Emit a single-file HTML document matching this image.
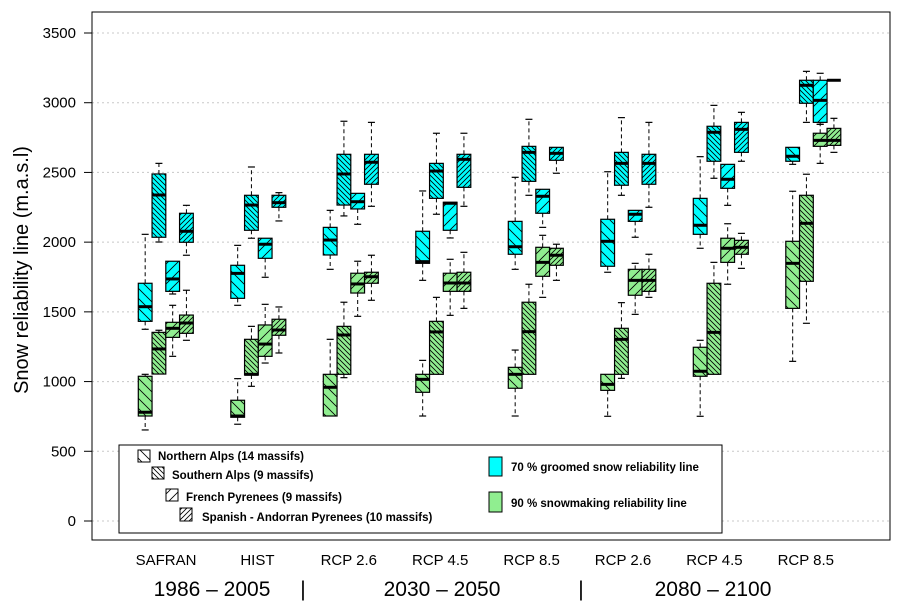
<!DOCTYPE html>
<html><head><meta charset="utf-8"><style>
body{margin:0;background:#fff;}
svg{display:block;font-family:"Liberation Sans",Arial,sans-serif;}
</style></head><body>
<svg id="chart" width="902" height="610" viewBox="0 0 902 610">
<defs>
<pattern id="pN" patternUnits="userSpaceOnUse" width="10" height="10"><path d="M-1,-1 L11,11 M-6,4 L6,16 M4,-6 L16,6" stroke="#000" stroke-width="0.8"/></pattern>
<pattern id="pS" patternUnits="userSpaceOnUse" width="5" height="5"><path d="M-1,-1 L6,6 M-3.5,1.5 L1.5,6.5 M1.5,-3.5 L6.5,1.5" stroke="#000" stroke-width="0.8"/></pattern>
<pattern id="pF" patternUnits="userSpaceOnUse" width="10" height="10"><path d="M-1,11 L11,-1 M-6,6 L6,-6 M4,16 L16,4" stroke="#000" stroke-width="0.8"/></pattern>
<pattern id="pP" patternUnits="userSpaceOnUse" width="5" height="5"><path d="M-1,6 L6,-1 M-3.5,3.5 L1.5,-1.5 M1.5,8.5 L8.5,1.5" stroke="#000" stroke-width="0.8"/></pattern>
</defs>
<g id="grid"></g>
<g id="marks"></g>
<rect x="92" y="12" width="798" height="528" fill="none" stroke="#000" stroke-width="1"/>
<g id="yaxis"></g>
<text x="28" y="270" font-size="20" text-anchor="middle" transform="rotate(-90 28 270)">Snow reliability line (m.a.s.l)</text>
<g id="xaxis" font-size="15" text-anchor="middle"></g>
<g font-size="21" text-anchor="middle">
<text x="212" y="596">1986 – 2005</text>
<text x="303" y="596">|</text>
<text x="442" y="596">2030 – 2050</text>
<text x="581" y="596">|</text>
<text x="713" y="596">2080 – 2100</text>
</g>
<g>
<rect x="119" y="445" width="603" height="88" fill="#fff" stroke="#000" stroke-width="1"/>
<g font-size="11.5" font-weight="bold" fill="#000">
<rect x="138" y="450" width="12" height="12" fill="url(#pN)" stroke="#000"/>
<text x="158" y="460">Northern Alps (14 massifs)</text>
<rect x="152" y="467" width="12" height="12" fill="url(#pS)" stroke="#000"/>
<text x="172" y="479">Southern Alps (9 massifs)</text>
<rect x="166" y="489" width="12" height="12" fill="url(#pF)" stroke="#000"/>
<text x="186" y="501">French Pyrenees (9 massifs)</text>
<rect x="180" y="508" width="12" height="13" fill="url(#pP)" stroke="#000"/>
<text x="202" y="521">Spanish - Andorran Pyrenees (10 massifs)</text>
<rect x="489" y="457" width="13" height="19" fill="#00FFFF" stroke="#000"/>
<text x="511" y="471">70 %  groomed snow reliability line</text>
<rect x="489" y="492" width="13" height="20" fill="#90EE90" stroke="#000"/>
<text x="511" y="507">90 %  snowmaking reliability line</text>
</g>
</g>
</svg>
<script>
const categories = ["SAFRAN","HIST","RCP 2.6","RCP 4.5","RCP 8.5","RCP 2.6","RCP 4.5","RCP 8.5"];
const yTicks = [0,500,1000,1500,2000,2500,3000,3500];
// each entry: [whiskerLow, q1, median, q3, whiskerHigh]
const northCyan = [[1375,1432,1537,1705,2056],[1547,1597,1776,1834,1977],[1805,1908,2015,2106,2228],[1726,1848,1860,2078,2367],[1805,1913,1967,2149,2465],[1784,1827,2006,2164,2505],[1956,2056,2121,2314,2613],[2558,2580,2616,2680,2680]];
const northGreen = [[653,753,780,1038,1052],[694,744,753,866,1021],[753,753,959,1052,1303],[753,923,1016,1052,1152],[753,952,1052,1102,1226],[751,937,980,1052,1052],[751,1038,1074,1246,1296],[1145,1525,1848,2006,2365]];
const southCyan = [[2001,2035,2338,2489,2565],[2028,2085,2266,2336,2539],[2188,2266,2489,2630,2867],[2200,2314,2510,2565,2781],[2336,2436,2644,2687,2881],[2336,2408,2565,2644,2893],[2458,2580,2788,2831,2981],[2859,2996,3125,3161,3225]];
const southGreen = [[1054,1054,1234,1353,1368],[966,1047,1052,1303,1396],[1028,1052,1334,1396,1569],[1052,1052,1356,1432,1604],[1052,1052,1358,1569,1698],[1023,1052,1303,1382,1566],[1052,1052,1353,1705,1855],[1418,1719,2135,2336,2487]];
const frPyrCyan = [[1628,1647,1736,1863,1863],[1748,1884,1985,2028,2028],[2128,2238,2290,2350,2350],[2030,2085,2279,2286,2286],[2106,2207,2329,2379,2379],[2035,2149,2200,2228,2228],[2264,2386,2451,2558,2558],[2845,2859,3017,3161,3211]];
const frPyrGreen = [[1181,1317,1382,1425,1547],[1133,1181,1269,1406,1554],[1468,1635,1700,1777,1863],[1475,1647,1707,1777,1877],[1604,1755,1855,1963,2049],[1482,1619,1726,1805,1848],[1698,1855,1956,2028,2132],[2565,2687,2730,2781,2845]];
const spPyrCyan = [[1906,1999,2078,2207,2264],[2152,2250,2283,2336,2355],[2257,2415,2573,2630,2859],[2257,2393,2594,2630,2781],[2494,2587,2637,2680,2680],[2250,2415,2565,2630,2859],[2580,2644,2809,2859,2931],[3161,3161,3161,3161,3161]];
const spPyrGreen = [[1296,1346,1420,1477,1655],[1205,1332,1370,1447,1535],[1583,1705,1752,1784,1906],[1525,1647,1707,1784,1927],[1726,1834,1906,1956,1985],[1604,1647,1726,1805,1913],[1812,1913,1963,2013,2063],[2644,2694,2730,2816,2888]];

const NS="http://www.w3.org/2000/svg";
const Y0=521, PXU=488/3500;
function yScale(v){return Y0 - v*PXU;}
function groupCenter(i){return 165.8 + i*92.5;}
function labelCenter(i){return 166 + i*91.4;}
function mk(tag,attrs,parent){const e=document.createElementNS(NS,tag);for(const k in attrs)e.setAttribute(k,attrs[k]);parent.appendChild(e);return e;}

const grid=document.getElementById('grid'), yaxis=document.getElementById('yaxis'), xaxis=document.getElementById('xaxis'), marks=document.getElementById('marks');
yTicks.forEach(t=>{
  const y=yScale(t);
  const g=mk('line',{x1:92,x2:890,y1:y,y2:y,stroke:'#c8c8c8','stroke-dasharray':'2,3','stroke-width':1},grid);
  
  
  const tk=mk('line',{x1:84,x2:92,y1:y,y2:y,stroke:'#000'},yaxis);
  
  
  const tx=mk('text',{x:76,y:y+5,'font-size':15,'text-anchor':'end'},yaxis);
  tx.textContent=t;
  
  
});
categories.forEach((c,i)=>{
  const t=mk('text',{x:labelCenter(i),y:565},xaxis);
  t.textContent=c;
  
  
});

const BW=13.75;
const series=[
 {name:'northern-alps',off:0,pat:'pN',cyan:northCyan,green:northGreen},
 {name:'southern-alps',off:1,pat:'pS',cyan:southCyan,green:southGreen},
 {name:'french-pyrenees',off:2,pat:'pF',cyan:frPyrCyan,green:frPyrGreen},
 {name:'spanish-pyrenees',off:3,pat:'pP',cyan:spPyrCyan,green:spPyrGreen}
];
function drawBox(d,x,fill,pat,name){
  const g=mk('g',{},marks);
  
  
  const cx=x+BW/2;
  const [lo,q1,md,q3,hi]=d;
  const wl=mk('line',{x1:cx,x2:cx,y1:yScale(q1),y2:yScale(lo),stroke:'#000','stroke-dasharray':'4,3'},g);
  
  
  const wh=mk('line',{x1:cx,x2:cx,y1:yScale(q3),y2:yScale(hi),stroke:'#000','stroke-dasharray':'4,3'},g);
  
  
  if(lo<q1){const c=mk('line',{x1:cx-3.5,x2:cx+3.5,y1:yScale(lo),y2:yScale(lo),stroke:'#000','stroke-width':1.2},g);
    
    }
  if(hi>q3){const c=mk('line',{x1:cx-3.5,x2:cx+3.5,y1:yScale(hi),y2:yScale(hi),stroke:'#000','stroke-width':1.2},g);
    
    }
  const yt=yScale(q3), h=Math.max(yScale(q1)-yt,0);
  const r=mk('rect',{x:x,y:yt,width:BW,height:h,fill:fill,stroke:'#000','stroke-width':1.2},g);
  
  
  mk('rect',{x:x,y:yt,width:BW,height:h,fill:'url(#'+pat+')',stroke:'none'},g);
  const m=mk('line',{x1:x,x2:x+BW,y1:yScale(md),y2:yScale(md),stroke:'#000','stroke-width':3},g);
  
  
}
categories.forEach((c,i)=>{
  series.forEach(s=>{
    const x=groupCenter(i)-27.5+s.off*BW;
    drawBox(s.cyan[i],x,'#00FFFF',s.pat,'box-70-'+s.name+'-'+i);
    drawBox(s.green[i],x,'#90EE90',s.pat,'box-90-'+s.name+'-'+i);
  });
});
</script>
</body></html>
